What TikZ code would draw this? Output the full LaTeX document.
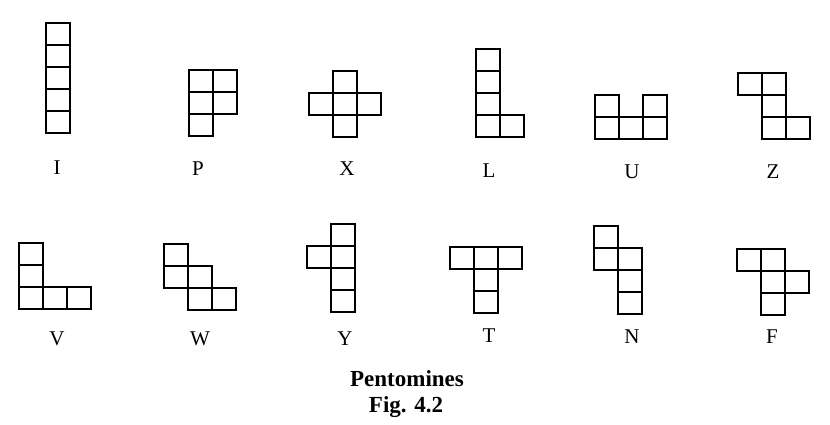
\documentclass[tikz,border=0pt]{standalone}
\usepackage{fontspec}
\setmainfont{Liberation Serif}
\usepackage{tikz}
\tikzset{
  cellbox/.style={draw=black, line width=1.7pt, line join=miter},
  piecelabel/.style={anchor=base, font=\fontsize{21}{23}\selectfont},
  titletext/.style={anchor=base, inner sep=0pt,
                    font=\fontsize{23}{26}\selectfont\bfseries},
}

\begin{document}
\begin{tikzpicture}[x=1pt, y=-1pt]
  \useasboundingbox (0,0) rectangle (830,424);

  % top row: I P X L U Z
  \begin{scope}[shift={(46,23)}]
    \foreach \c/\r in {0/0,0/1,0/2,0/3,0/4} \draw[cellbox] (\c*24,\r*22) rectangle ++(24,22);
  \end{scope}
  \begin{scope}[shift={(189,70)}]
    \foreach \c/\r in {0/0,1/0,0/1,1/1,0/2} \draw[cellbox] (\c*24,\r*22) rectangle ++(24,22);
  \end{scope}
  \begin{scope}[shift={(309,71)}]
    \foreach \c/\r in {1/0,0/1,1/1,2/1,1/2} \draw[cellbox] (\c*24,\r*22) rectangle ++(24,22);
  \end{scope}
  \begin{scope}[shift={(476,49)}]
    \foreach \c/\r in {0/0,0/1,0/2,0/3,1/3} \draw[cellbox] (\c*24,\r*22) rectangle ++(24,22);
  \end{scope}
  \begin{scope}[shift={(595,95)}]
    \foreach \c/\r in {0/0,2/0,0/1,1/1,2/1} \draw[cellbox] (\c*24,\r*22) rectangle ++(24,22);
  \end{scope}
  \begin{scope}[shift={(738,73)}]
    \foreach \c/\r in {0/0,1/0,1/1,1/2,2/2} \draw[cellbox] (\c*24,\r*22) rectangle ++(24,22);
  \end{scope}

  \node[piecelabel] (labI) at (57,174) {I};
  \node[piecelabel] (labP) at (198,175) {P};
  \node[piecelabel] (labX) at (347,175) {X};
  \node[piecelabel] (labL) at (489,177) {L};
  \node[piecelabel] (labU) at (632,178) {U};
  \node[piecelabel] (labZ) at (773,178) {Z};

  % bottom row: V W Y T N F
  \begin{scope}[shift={(19,243)}]
    \foreach \c/\r in {0/0,0/1,0/2,1/2,2/2} \draw[cellbox] (\c*24,\r*22) rectangle ++(24,22);
  \end{scope}
  \begin{scope}[shift={(164,244)}]
    \foreach \c/\r in {0/0,0/1,1/1,1/2,2/2} \draw[cellbox] (\c*24,\r*22) rectangle ++(24,22);
  \end{scope}
  \begin{scope}[shift={(307,224)}]
    \foreach \c/\r in {1/0,0/1,1/1,1/2,1/3} \draw[cellbox] (\c*24,\r*22) rectangle ++(24,22);
  \end{scope}
  \begin{scope}[shift={(450,247)}]
    \foreach \c/\r in {0/0,1/0,2/0,1/1,1/2} \draw[cellbox] (\c*24,\r*22) rectangle ++(24,22);
  \end{scope}
  \begin{scope}[shift={(594,226)}]
    \foreach \c/\r in {0/0,0/1,1/1,1/2,1/3} \draw[cellbox] (\c*24,\r*22) rectangle ++(24,22);
  \end{scope}
  \begin{scope}[shift={(737,249)}]
    \foreach \c/\r in {0/0,1/0,1/1,2/1,1/2} \draw[cellbox] (\c*24,\r*22) rectangle ++(24,22);
  \end{scope}

  \node[piecelabel] (labV) at (57,345) {V};
  \node[piecelabel] (labW) at (200,345) {W};
  \node[piecelabel] (labY) at (345,345) {Y};
  \node[piecelabel] (labT) at (489,342) {T};
  \node[piecelabel] (labN) at (632,343) {N};
  \node[piecelabel] (labF) at (772,343) {F};

  \node[titletext] (title) at (407,386) {Pentomines};
  \node[titletext] (fig) at (406,412) {Fig. 4.2};
\end{tikzpicture}
\end{document}
